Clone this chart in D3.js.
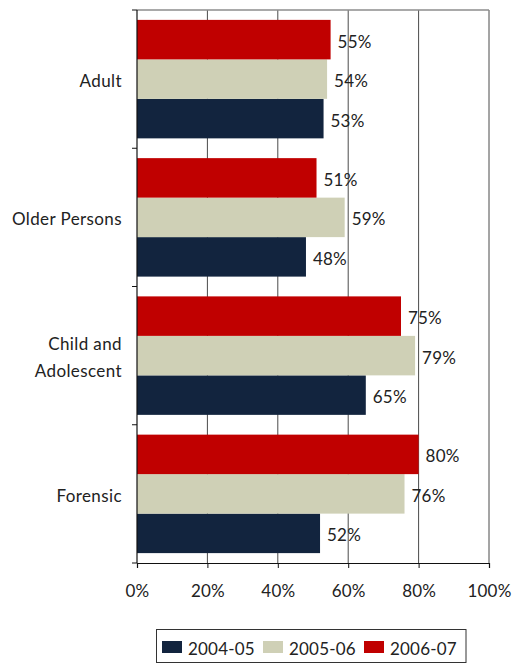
<!DOCTYPE html>
<html>
<head>
<meta charset="utf-8">
<script src="https://cdn.jsdelivr.net/npm/d3@7"></script>
<style>
  html, body { margin: 0; padding: 0; background: #fff; }
  svg { display: block; }
  text { font-family: Lato, "Open Sans", sans-serif; fill: #222; }
</style>
</head>
<body>
<svg id="chart" width="513" height="664"></svg>
<script>
// Service categories, top to bottom
const categories = ["Adult", "Older Persons", "Child and Adolescent", "Forensic"];
const categoryLines = [["Adult"], ["Older Persons"], ["Child and", "Adolescent"], ["Forensic"]];
// Reporting years
const years = ["2004-05", "2005-06", "2006-07"];
// Percentage per category for each year
const values2004 = [53, 48, 65, 52];
const values2005 = [54, 59, 79, 76];
const values2006 = [55, 51, 75, 80];
const xTicks = [0, 20, 40, 60, 80, 100];
const colors = ["#12243e", "#cfd0b6", "#c00000"];

const series = [values2004, values2005, values2006];
const FONT = 17;

const svg = d3.select("#chart");
const plotLeft = 137, plotRight = 489, plotTop = 10, plotBottom = 563;

const x = d3.scaleLinear().domain([0, 100]).range([plotLeft, plotRight]);
const y = d3.scaleBand().domain(categories).range([plotTop, plotBottom])
  .paddingInner(0.143).paddingOuter(0.0715);
// within each category: 2006-07 on top, 2004-05 at the bottom
const ySub = d3.scaleBand().domain(years.slice().reverse()).range([0, y.bandwidth()]);

// vertical gridlines
svg.append("g").selectAll("line").data(xTicks.slice(1)).join("line")
  .attr("x1", d => x(d)).attr("x2", d => x(d))
  .attr("y1", plotTop).attr("y2", plotBottom)
  .attr("stroke", "#4a4a4a").attr("stroke-width", 1);

// top border
svg.append("line").attr("x1", plotLeft).attr("x2", plotRight).attr("y1", plotTop).attr("y2", plotTop)
  .attr("stroke", "#8c8c8c").attr("stroke-width", 1.5);

// bars
const groups = svg.append("g").selectAll("g").data(categories).join("g")
  .attr("transform", d => `translate(0,${y(d)})`);

years.forEach((yr, si) => {
  groups.append("rect")
    .attr("x", x(0))
    .attr("y", ySub(yr))
    .attr("width", (d, i) => x(series[si][i]) - x(0))
    .attr("height", ySub.bandwidth())
    .attr("fill", colors[si]);
  groups.append("text")
    .attr("x", (d, i) => x(series[si][i]) + 7)
    .attr("y", ySub(yr) + ySub.bandwidth() / 2)
    .attr("dy", "0.47em")
    .attr("font-size", FONT)
    .attr("letter-spacing", 0.2)
    .text((d, i) => series[si][i] + "%");
});

// left axis line with category boundary ticks
svg.append("line").attr("x1", plotLeft).attr("x2", plotLeft).attr("y1", plotTop).attr("y2", plotBottom)
  .attr("stroke", "#111").attr("stroke-width", 1.2);
const bounds = d3.range(categories.length + 1).map(i => plotTop + i * (plotBottom - plotTop) / categories.length);
svg.append("g").selectAll("line").data(bounds).join("line")
  .attr("x1", plotLeft - 5).attr("x2", plotLeft).attr("y1", d => d).attr("y2", d => d)
  .attr("stroke", "#111").attr("stroke-width", 1);

// category labels
svg.append("g").selectAll("text").data(categories).join("text")
  .attr("text-anchor", "end")
  .attr("font-size", FONT)
  .attr("letter-spacing", 0.4)
  .attr("transform", d => `translate(122,${y(d) + y.bandwidth() / 2})`)
  .each(function (d, i) {
    const lines = categoryLines[i];
    const t = d3.select(this);
    lines.forEach((ln, j) => {
      t.append("tspan").attr("x", 0)
        .attr("y", (j - (lines.length - 1) / 2) * 27)
        .attr("dy", "0.47em")
        .text(ln);
    });
  });

// bottom axis
const xAxis = d3.axisBottom(x).tickValues(xTicks).tickFormat(d => d + "%")
  .tickSize(5).tickPadding(17);
const gx = svg.append("g").attr("transform", `translate(0,${plotBottom})`).call(xAxis);
gx.select(".domain").attr("stroke", "#111").attr("stroke-width", 1.2);
gx.selectAll(".tick line").attr("stroke", "#111");
gx.selectAll(".tick text").attr("font-size", FONT).attr("letter-spacing", 0.2)
  .attr("font-family", "Lato, 'Open Sans', sans-serif").attr("fill", "#222");

// legend
const legend = svg.append("g");
legend.append("rect").attr("x", 156.5).attr("y", 629.5).attr("width", 309.5).attr("height", 33)
  .attr("fill", "#fff").attr("stroke", "#333").attr("stroke-width", 1);
const legendX = [162, 263, 364];
years.forEach((yr, i) => {
  legend.append("rect").attr("x", legendX[i]).attr("y", 641).attr("width", 20).attr("height", 12)
    .attr("fill", colors[i]);
  legend.append("text").attr("x", legendX[i] + 26).attr("y", 647).attr("dy", "0.45em")
    .attr("font-size", FONT).attr("letter-spacing", 0.2).text(yr);
});
</script>
</body>
</html>
